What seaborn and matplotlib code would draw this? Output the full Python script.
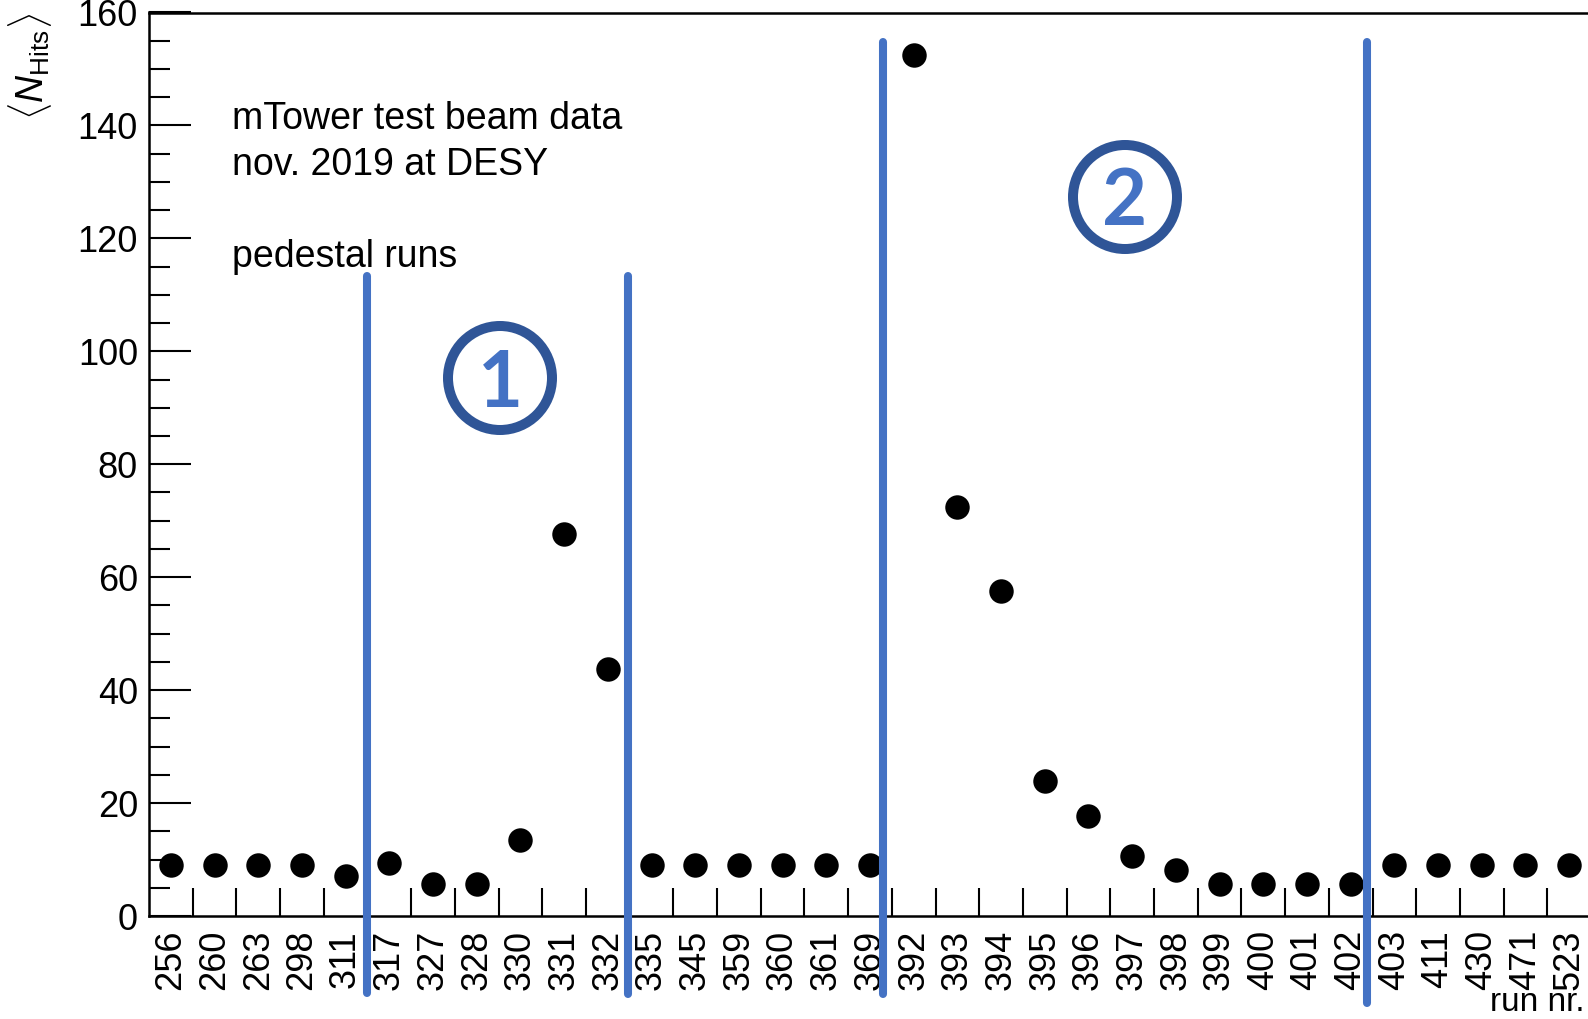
import numpy as np
import pandas as pd
import matplotlib.pyplot as plt
import seaborn as sns
from matplotlib.patches import Circle
from matplotlib.ticker import MultipleLocator, FixedLocator

# run numbers (categorical x axis) and mean number of hits per run
runs = ['256', '260', '263', '298', '311', '317', '327', '328', '330', '331', '332',
        '335', '345', '359', '360', '361', '369', '392', '393', '394', '395', '396',
        '397', '398', '399', '400', '401', '402', '403', '411', '430', '471', '523']
n_hits = [9.0, 9.0, 9.0, 9.0, 7.1, 9.3, 5.7, 5.7, 13.5, 67.7, 43.7,
          9.0, 9.0, 9.0, 9.0, 9.0, 9.0, 152.5, 72.5, 57.6, 23.9, 17.7,
          10.7, 8.1, 5.7, 5.7, 5.7, 5.7, 9.0, 9.0, 9.0, 9.0, 9.0]

info_lines = ['mTower test beam data', 'nov. 2019 at DESY', '', 'pedestal runs']
section_labels = ['1', '2']

df = pd.DataFrame({'run': runs, 'hits': n_hits})

sns.set_theme(style='ticks')
plt.rcParams['font.family'] = ['Liberation Sans', 'DejaVu Sans']
plt.rcParams['mathtext.fontset'] = 'custom'
plt.rcParams['mathtext.rm'] = 'Liberation Sans'
plt.rcParams['mathtext.it'] = 'Liberation Sans:italic'
for key in ['text.color', 'axes.labelcolor', 'xtick.color', 'ytick.color', 'axes.edgecolor']:
    plt.rcParams[key] = 'black'

W, H = 1588, 1019
fig = plt.figure(figsize=(W / 100, H / 100), dpi=100)
ax = fig.add_axes([149 / W, 1 - 916 / H, 1442 / W, 903.5 / H])

sns.scatterplot(data=df, x='run', y='hits', color='black', s=310,
                linewidth=0, ax=ax, zorder=3, clip_on=False)

ax.set_xlim(-0.5, len(runs) - 0.5)
ax.set_ylim(0, 160)

# axis look (ROOT-like, ticks inside)
for sp in ax.spines.values():
    sp.set_linewidth(1.8)
ax.yaxis.set_major_locator(MultipleLocator(20))
ax.yaxis.set_minor_locator(MultipleLocator(5))
ax.tick_params(axis='y', which='major', direction='in', length=30, width=1.5,
               labelsize=26, pad=8, left=True, right=False)
ax.tick_params(axis='y', which='minor', direction='in', length=15, width=1.5,
               left=True, right=False)
ax.xaxis.set_major_locator(FixedLocator(np.arange(len(runs))))
ax.set_xticklabels(runs, rotation=90)
ax.xaxis.set_minor_locator(FixedLocator(np.arange(len(runs) - 1) + 0.5))
ax.tick_params(axis='x', which='major', length=0, labelsize=26, pad=10,
               top=False)
ax.tick_params(axis='x', which='minor', direction='in', length=20, width=1.5,
               top=False)

ax.set_xlabel('run nr.', fontsize=24, loc='right')
ax.xaxis.label.set_verticalalignment('bottom')
ax.xaxis.set_label_coords(0.9955, -0.1125)
ax.set_ylabel(r'$\langle N_{\mathrm{Hits}} \rangle$', fontsize=27, loc='top')
ax.yaxis.set_label_coords(-0.066, 1.0)

# separators between run groups
seps = [(4.49, -0.085, 0.708), (10.46, -0.086, 0.708),
        (16.30, -0.086, 0.967), (27.37, -0.096, 0.967)]
for xs, y0, y1 in seps:
    ax.axvline(xs, ymin=y0, ymax=y1, color='#4472C4', lw=5.8,
               clip_on=False, zorder=4)

# info text
for i, t in enumerate(info_lines):
    if t:
        fig.text(232 / W, 1 - (129 + 46 * i) / H, t, fontsize=27,
                 ha='left', va='baseline')

# circled section numbers
for lab, (cx, cy, base) in zip(section_labels, [(500, 378, 407), (1125, 197, 225)]):
    fig.patches.append(Circle((cx / 100, (H - cy) / 100), 0.52, fill=False,
                              edgecolor='#2F5597', lw=7.2,
                              transform=fig.dpi_scale_trans))
    fig.text(cx / W, 1 - base / H, lab, fontsize=56, fontweight='bold',
             family='Lato', color='#4472C4', ha='center', va='baseline')

fig.savefig('out.png', dpi=100)
